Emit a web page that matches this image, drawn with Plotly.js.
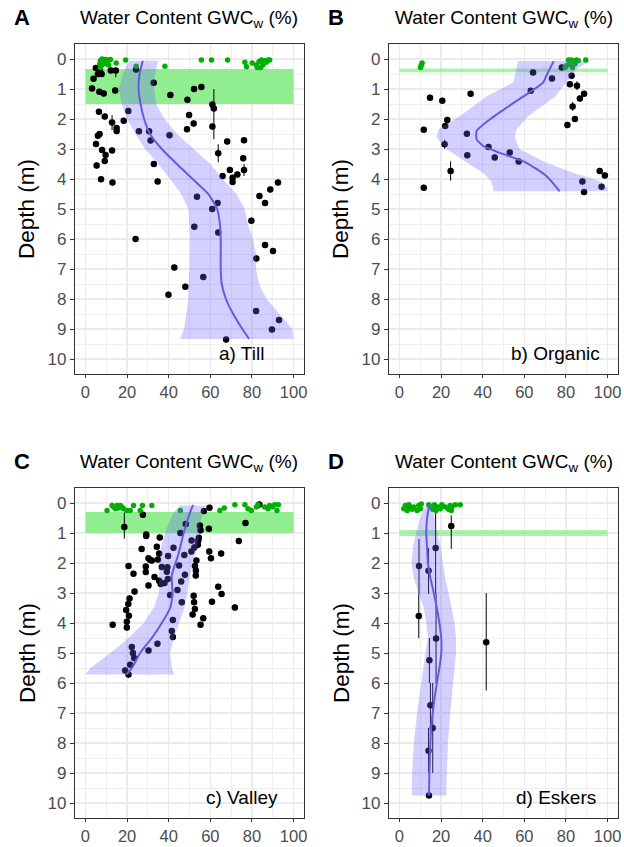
<!DOCTYPE html>
<html><head><meta charset="utf-8">
<script src="https://cdn.plot.ly/plotly-3.0.1.min.js"></script>
<style>html,body{margin:0;padding:0;background:#fff}#chart{width:624px;height:847px}</style>
</head><body><div id="chart"></div>
<script>
// ---------- Panel A : Till ----------
const aBlackX = [5.0,7.0,6.0,7.8,3.9,12.2,14.6,3.2,6.7,8.8,14.3,24.3,32.8,40.8,52.2,55.7,49.0,61.0,61.7,61.0,49.8,52.0,48.8,40.4,25.7,30.6,31.3,32.9,34.7,20.6,18.4,15.0,15.0,12.8,9.3,6.5,6.8,6.0,5.1,8.0,12.8,9.7,9.3,5.4,7.5,13.0,63.8,68.1,76.2,75.8,76.2,65.9,69.4,70.7,70.7,73.0,92.5,88.8,83.6,53.6,86.3,63.5,60.9,79.7,52.3,63.8,86.3,90.1,24.1,82.1,42.7,56.6,48.0,39.9,82.0,93.0,89.6,67.6];
const aBlackY = [0.30,0.37,0.50,0.50,0.66,0.38,0.38,0.98,1.09,1.15,1.05,0.35,0.79,1.20,1.00,0.93,1.36,1.52,1.65,2.25,1.87,2.15,2.34,2.54,2.41,2.41,2.72,3.50,4.08,1.73,2.06,2.30,2.40,2.12,1.92,1.76,2.50,2.56,2.83,3.03,3.05,3.20,3.40,3.55,4.01,4.12,3.14,2.75,2.71,3.31,3.70,3.90,3.70,3.96,4.10,3.85,4.12,4.35,4.57,4.59,4.80,4.80,5.00,5.39,5.59,5.78,6.20,6.40,6.00,6.65,6.95,7.27,7.59,7.86,8.40,8.70,9.02,9.35];
const aWideIdx = [6,18,33,46,50];
const aWideMinus = [0.10,0.65,0.25,0.30,0.20];
const aWidePlus = [0.23,1.03,0.25,0.30,0.20];
const aGreenX = [7.2,8.0,8.8,9.6,10.4,11.2,12.0,6.9,7.7,9.1,10.0,11.2,7.2,14.8,19.3,24.4,38.2,55.7,60.6,68.3,76.6,77.4,80.1,82.1,83.4,84.5,85.3,86.1,86.9,87.7,88.5,82.5,84.2];
const aGreenY = [0.06,0.00,0.03,0.02,0.06,0.03,0.02,0.17,0.22,0.13,0.17,0.20,0.28,0.13,0.03,0.24,0.24,0.03,0.03,0.03,0.11,0.26,0.13,0.20,0.09,0.03,0.19,0.06,0.11,0.03,0.03,0.28,0.28];
const aBand = [0.33, 1.50];
const aLoessDepth = [0.06,0.5,1,1.5,2,2.5,3,3.5,4,4.5,5,5.5,6,6.5,7,7.5,8,8.5,9,9.33];
const aLoessX = [27.6,26.0,25.5,26.5,28.2,31.0,36.7,43.9,51.5,59.0,63.3,64.6,65.0,65.0,65.0,65.5,67.5,71.0,75.4,78.6];
const aRibDepth = aLoessDepth;
const aRibLow = [21.0,18.0,16.0,17.5,20.0,24.0,28.7,35.0,40.7,46.0,49.4,50.0,50.2,50.2,50.0,49.5,49.4,48.5,47.4,45.5];
const aRibHigh = [35.0,33.5,33.0,34.0,38.0,44.0,52.0,60.0,66.0,72.6,76.5,78.0,80.5,82.0,82.0,83.4,87.0,93.0,99.4,100.0];

// ---------- Panel B : Organic ----------
const bBlackX = [11.7,14.7,20.6,34.2,23.0,22.0,21.7,24.6,11.7,32.4,42.8,45.8,32.6,53.0,57.3,64.2,73.3,63.1,78.0,82.7,81.9,85.3,88.7,86.7,83.2,84.3,80.7,96.2,98.7,87.9,97.1,88.7];
const bBlackY = [2.36,1.29,1.39,1.16,2.03,2.23,2.84,3.73,4.29,2.49,2.93,3.28,3.21,3.12,3.42,0.45,0.65,1.06,0.28,0.56,0.84,0.89,1.16,1.32,1.58,2.00,2.20,3.73,3.88,4.08,4.26,4.43];
const bWideIdx = [6,7,21,24];
const bWideMinus = [0.15,0.32,0.15,0.15];
const bWidePlus = [0.15,0.32,0.15,0.15];
const bGreenX = [10.9,10.5,10.1,81.2,82.4,83.5,85.1,85.9,80.4,81.9,83.1,84.3,89.5,79.6];
const bGreenY = [0.13,0.22,0.28,0.03,0.03,0.06,0.03,0.06,0.22,0.17,0.28,0.17,0.03,0.28];
const bBand = [0.32, 0.44];
const bLoessDepth = [0.07,0.5,0.79,1.07,1.62,2.01,2.4,2.68,2.9,3.13,3.46,3.9,4.41];
const bLoessX = [74.1,71.0,69.0,63.4,51.5,43.5,37.1,37.1,40.3,48.3,61.0,70.6,77.0];
const bRibDepth = [0.07,0.34,0.79,1.24,1.9,2.35,2.62,3.01,3.46,3.79,4.07,4.29,4.41];
const bRibLow = [57.0,56.2,54.6,41.9,29.1,18.7,17.9,22.7,33.0,40.0,44.0,45.0,45.0];
const bRibHigh = [91.4,85.0,80.2,75.0,62.0,56.2,55.4,57.8,70.6,83.4,96.2,100.0,100.0];

// ---------- Panel C : Valley ----------
const cBlackX = [18.7,27.6,29.2,29.2,35.7,27.0,34.3,20.7,23.1,23.6,21.2,20.6,19.6,20.9,19.9,19.9,13.1,30.3,31.1,31.9,29.0,29.0,35.4,34.8,33.2,35.4,36.7,30.3,36.2,38.0,39.1,39.4,39.7,42.3,40.7,39.6,45.6,48.2,47.5,45.0,47.8,46.0,44.2,46.3,42.0,41.5,42.0,34.6,30.3,51.0,52.3,50.9,53.3,52.6,53.1,53.0,54.0,54.2,54.5,55.3,55.0,56.9,59.6,59.3,59.5,60.3,52.0,52.2,52.6,51.5,56.6,55.3,60.8,63.8,65.4,65.2,73.7,76.9,71.8,83.5,22.3,22.8,23.4,21.5,19.1,20.7];
const cBlackY = [0.80,0.39,1.05,1.10,1.15,1.53,1.46,2.10,2.36,2.95,3.18,3.37,3.57,3.76,3.96,4.15,4.06,1.84,1.90,1.92,2.12,2.30,1.68,1.88,2.47,2.59,2.13,2.75,2.70,2.67,2.29,2.14,1.77,1.49,3.07,2.53,1.00,0.70,1.73,2.08,2.39,2.62,2.90,3.31,3.90,4.27,4.47,4.69,4.92,1.25,1.48,1.62,1.92,2.10,2.25,2.42,1.39,1.25,1.16,0.91,0.75,0.27,0.16,0.86,1.62,1.84,3.09,3.31,3.53,3.72,3.84,4.06,3.29,2.79,3.03,1.68,1.27,0.67,3.48,0.05,4.80,5.00,5.17,5.39,5.58,5.72];
const cWideIdx = [0];
const cWideMinus = [0.48];
const cWidePlus = [0.39];
const cGreenX = [10.4,12.8,13.6,14.4,15.2,15.9,16.7,17.5,18.3,19.9,21.5,23.1,26.3,27.4,31.9,45.6,64.6,66.7,71.8,76.6,78.1,79.7,82.1,82.9,86.1,87.7,88.5,89.8,90.9,92.0,92.7];
const cGreenY = [0.25,0.08,0.13,0.19,0.08,0.17,0.08,0.13,0.19,0.25,0.25,0.08,0.25,0.08,0.08,0.25,0.25,0.17,0.06,0.06,0.19,0.25,0.13,0.06,0.13,0.19,0.08,0.13,0.06,0.25,0.06];
const cBand = [0.30, 1.00];
const cLoessDepth = [0.06,0.41,1.08,1.75,2.41,3.0,3.5,4.0,4.5,5.0,5.5,5.72];
const cLoessX = [51.7,49.8,46.9,44.5,41.5,41.8,40.7,36.7,31.9,26.3,22.3,19.6];
const cRibDepth = [0.08,0.3,0.75,1.4,2.0,2.5,3.0,3.5,4.0,4.5,5.0,5.5,5.72];
const cRibLow = [45.3,42.5,39.5,36.5,35.5,35.3,35.3,32.7,28.0,20.7,12.0,2.4,0.0];
const cRibHigh = [58.1,56.5,55.0,54.1,51.5,50.0,49.0,47.5,45.0,42.5,40.7,41.5,42.6];

// ---------- Panel D : Eskers ----------
const dBlackX = [5.0,24.9,17.4,9.4,14.0,9.3,17.6,41.7,14.4,14.9,16.0,14.0,14.2];
const dBlackY = [0.16,0.77,1.50,2.10,2.26,3.77,4.52,4.64,5.24,6.74,7.50,8.26,9.75];
const dErrMinus = [0.06,0.36,1.50,0.90,0.76,0.74,1.52,1.64,0.74,0.74,1.50,0.76,0];
const dErrPlus = [0.06,0.76,1.50,0.93,0.77,0.73,1.48,1.61,0.76,0.76,1.50,0.74,0];
const dGreenX = [2.1,2.9,3.7,4.5,6.1,6.9,8.5,9.3,10.1,10.5,14.1,15.3,16.0,16.8,17.6,18.5,19.6,20.4,22.0,23.6,24.4,24.9,25.2,26.8,29.2];
const dGreenY = [0.19,0.08,0.25,0.06,0.21,0.13,0.25,0.08,0.19,0.03,0.06,0.13,0.21,0.06,0.25,0.13,0.19,0.06,0.13,0.21,0.08,0.25,0.13,0.06,0.06];
const dBand = [0.90, 1.10];
const dLoessDepth = [0.05,0.5,1,1.5,2,2.5,3,3.5,4,4.5,5,5.5,6,6.5,7,7.5,8,8.5,9,9.75];
const dLoessX = [14.4,13.3,12.9,13.3,13.7,14.9,16.5,18.0,19.2,20.1,20.1,19.2,18.0,16.9,16.0,15.2,14.9,14.6,14.4,14.2];
const dRibDepth = [0.08,0.3,0.69,1.36,2,2.5,3,3.5,4,4.5,5,5.5,6,7,8,9,9.75];
const dRibLow = [13.1,11.0,9.1,6.8,5.8,6.9,9.3,11.7,12.9,13.7,12.5,11.5,10.5,8.5,6.9,6.1,5.9];
const dRibHigh = [16.3,16.8,17.1,19.5,20.9,22.0,23.6,25.2,26.5,27.2,27.2,26.5,25.6,24.4,23.3,22.8,22.5];

const panelLetters = ['A','B','C','D'];
const panelLabels = ['a) Till','b) Organic','c) Valley','d) Eskers'];
const xTitle = 'Water Content GWC<sub>w</sub> (%)';
const yTitle = 'Depth (m)';

// ---------- build ----------
const W = 624, H = 847;
const FONT = 'Liberation Sans, Arial, Helvetica, sans-serif';
const boxes = [ // plot areas in px: [left, right, top, bottom]
  [75, 304, 44, 374], [389, 618, 44, 374],
  [75, 304, 488, 818], [389, 618, 488, 818]
];
function errs(n, idx, lo, hi, base) {
  const m = new Array(n).fill(base), p = new Array(n).fill(base);
  idx.forEach((k, j) => { m[k] = lo[j]; p[k] = hi[j]; });
  return [m, p];
}
const panels = [
  {bx: aBlackX, by: aBlackY, e: errs(aBlackX.length, aWideIdx, aWideMinus, aWidePlus, 0.1),
   gx: aGreenX, gy: aGreenY, band: aBand, ld: aLoessDepth, lx: aLoessX, rd: aRibDepth, rl: aRibLow, rh: aRibHigh, bandCol: 'rgb(144,238,144)'},
  {bx: bBlackX, by: bBlackY, e: errs(bBlackX.length, bWideIdx, bWideMinus, bWidePlus, 0.1),
   gx: bGreenX, gy: bGreenY, band: bBand, ld: bLoessDepth, lx: bLoessX, rd: bRibDepth, rl: bRibLow, rh: bRibHigh, bandCol: 'rgba(144,238,144,0.75)'},
  {bx: cBlackX, by: cBlackY, e: errs(cBlackX.length, cWideIdx, cWideMinus, cWidePlus, 0.1),
   gx: cGreenX, gy: cGreenY, band: cBand, ld: cLoessDepth, lx: cLoessX, rd: cRibDepth, rl: cRibLow, rh: cRibHigh, bandCol: 'rgb(144,238,144)'},
  {bx: dBlackX, by: dBlackY, e: [dErrMinus, dErrPlus],
   gx: dGreenX, gy: dGreenY, band: dBand, ld: dLoessDepth, lx: dLoessX, rd: dRibDepth, rl: dRibLow, rh: dRibHigh, bandCol: 'rgba(144,238,144,0.75)'}
];

const traces = [];
const layout = {
  width: W, height: H, margin: {l: 0, r: 0, t: 0, b: 0},
  paper_bgcolor: '#fff', plot_bgcolor: '#fff', showlegend: false, hovermode: false,
  font: {family: FONT, color: '#000'}, annotations: []
};

panels.forEach((p, i) => {
  const sfx = i === 0 ? '' : String(i + 1);
  const xa = 'x' + sfx, ya = 'y' + sfx;
  const [L, R, T, B] = boxes[i];
  const common = {
    showline: true, mirror: true, linecolor: '#333333', linewidth: 1.2,
    ticks: 'outside', ticklen: 4, tickcolor: '#333333', tickwidth: 1,
    tickfont: {family: FONT, size: 17, color: '#4D4D4D'},
    showgrid: true, gridcolor: '#EBEBEB', gridwidth: 1.6, zeroline: false, fixedrange: true
  };
  layout['xaxis' + sfx] = Object.assign({}, common, {
    domain: [L / W, R / W], anchor: ya, range: [-5, 105],
    ticklen: 3, tickfont: {family: FONT, size: 16.5, color: '#4D4D4D'},
    tickmode: 'array', tickvals: [0, 20, 40, 60, 80, 100],
    minor: {tickmode: 'array', tickvals: [10, 30, 50, 70, 90], showgrid: true, gridcolor: '#EBEBEB', gridwidth: 0.8, ticklen: 0}
  });
  layout['yaxis' + sfx] = Object.assign({}, common, {
    domain: [1 - B / H, 1 - T / H], anchor: xa, range: [10.5, -0.5],
    tickmode: 'array', tickvals: [0,1,2,3,4,5,6,7,8,9,10],
    minor: {tickmode: 'array', tickvals: [0.5,1.5,2.5,3.5,4.5,5.5,6.5,7.5,8.5,9.5], showgrid: true, gridcolor: '#EBEBEB', gridwidth: 0.8, ticklen: 0}
  });

  // green band
  traces.push({x: [0, 100, 100, 0, 0], y: [p.band[0], p.band[0], p.band[1], p.band[1], p.band[0]],
    xaxis: xa, yaxis: ya, mode: 'lines', fill: 'toself', fillcolor: p.bandCol, line: {width: 0}, type: 'scatter'});
  // black points
  traces.push({x: p.bx, y: p.by, xaxis: xa, yaxis: ya, mode: 'markers', type: 'scatter',
    marker: {color: '#000', size: 6.5},
    error_y: {type: 'data', symmetric: false, array: p.e[1], arrayminus: p.e[0], color: '#000', thickness: 1, width: 0}});
  // green points
  traces.push({x: p.gx, y: p.gy, xaxis: xa, yaxis: ya, mode: 'markers', type: 'scatter',
    marker: {color: '#00B000', size: 5.5}});
  // ribbon
  traces.push({x: p.rl.concat(p.rh.slice().reverse()), y: p.rd.concat(p.rd.slice().reverse()),
    xaxis: xa, yaxis: ya, mode: 'lines', fill: 'toself', fillcolor: 'rgba(110,95,255,0.3)', line: {width: 0}, type: 'scatter'});
  // loess line
  traces.push({x: p.lx, y: p.ld, xaxis: xa, yaxis: ya, mode: 'lines', type: 'scatter',
    line: {color: '#6A5ADB', width: 2, shape: 'spline', smoothing: 0.6}});

  const cx = (L + R) / 2 / W;
  layout.annotations.push(
    {xref: 'paper', yref: 'paper', x: cx, y: 1 - (T - 25) / H, text: xTitle, showarrow: false,
     xanchor: 'center', yanchor: 'middle', font: {family: FONT, size: 19, color: '#000'}},
    {xref: 'paper', yref: 'paper', x: (L - 53) / W, y: 1 - (T - 26) / H, text: '<b>' + panelLetters[i] + '</b>', showarrow: false,
     xanchor: 'center', yanchor: 'middle', font: {family: FONT, size: 22, color: '#000'}},
    {xref: 'paper', yref: 'paper', x: (L - 48) / W, y: 1 - ((T + B) / 2) / H, text: yTitle, showarrow: false, textangle: -90,
     xanchor: 'center', yanchor: 'middle', font: {family: FONT, size: 22.5, color: '#000'}},
    {xref: xa, yref: ya, x: 75, y: 9.8, text: panelLabels[i], showarrow: false,
     xanchor: 'center', yanchor: 'middle', font: {family: FONT, size: 19, color: '#000'}}
  );
});

Plotly.newPlot('chart', traces, layout, {staticPlot: true, displayModeBar: false});
</script></body></html>
